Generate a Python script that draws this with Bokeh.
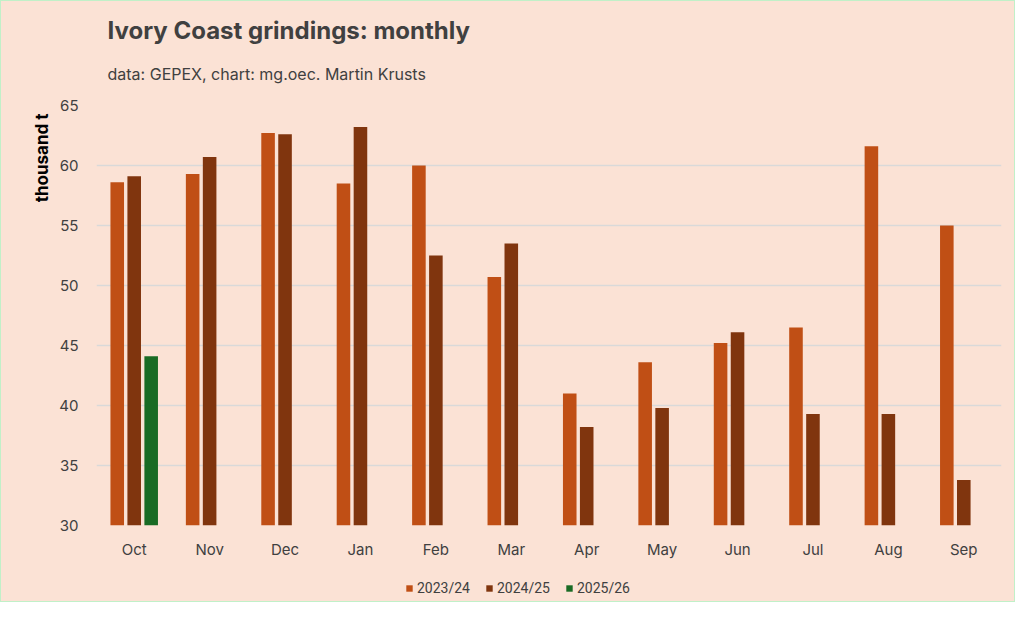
from bokeh.embed import file_html
from bokeh.layouts import column
from bokeh.models import (ColumnDataSource, FactorRange, Legend, LegendItem,
                          Range1d, SingleIntervalTicker, Title)
from bokeh.plotting import figure
from bokeh.resources import INLINE
from bokeh.transform import dodge

#-------------- data (thousand t) ----------#
months = ["Oct", "Nov", "Dec", "Jan", "Feb", "Mar", "Apr", "May", "Jun", "Jul", "Aug", "Sep"]
s2023_24 = [58.6, 59.3, 62.7, 58.5, 60.0, 50.7, 41.0, 43.6, 45.2, 46.5, 61.6, 55.0]
s2024_25 = [59.1, 60.7, 62.6, 63.2, 52.5, 53.5, 38.2, 39.8, 46.1, 39.3, 39.3, 33.8]
months_2025_26 = ["Oct"]
s2025_26 = [44.1]
seasons = ["2023/24", "2024/25", "2025/26"]
colors = ["#C04F15", "#80350E", "#196B24"]
#-------------------------------------------#

BG = "#FBE2D5"
TXT = "#404040"
FONT = "Inter"

src = ColumnDataSource(data=dict(months=months, a=s2023_24, b=s2024_25))
src_new = ColumnDataSource(data=dict(months=months_2025_26, c=s2025_26))

#------------- main chart ------------#
p = figure(x_range=FactorRange(*months, range_padding=0), y_range=Range1d(30, 65),
           title=None, width=1013, height=562, output_backend="svg", toolbar_location=None,
           min_border_left=95, min_border_right=13, min_border_top=104, min_border_bottom=38)
p.background_fill_color = None
p.border_fill_color = BG
p.outline_line_color = None

w = 0.18
p.vbar(x=dodge("months", -0.225, range=p.x_range), top="a", bottom=30, width=w,
       source=src, fill_color=colors[0], line_color=None)
p.vbar(x=dodge("months", 0.0, range=p.x_range), top="b", bottom=30, width=w,
       source=src, fill_color=colors[1], line_color=None)
p.vbar(x=dodge("months", 0.225, range=p.x_range), top="c", bottom=30, width=w,
       source=src_new, fill_color=colors[2], line_color=None)

p.xgrid.grid_line_color = None
p.ygrid.grid_line_color = "#D9D9D9"
p.ygrid.grid_line_width = 1.6
p.yaxis.ticker = SingleIntervalTicker(interval=5)
for ax in (p.xaxis, p.yaxis):
    ax.axis_line_color = None
    ax.major_tick_line_color = None
    ax.minor_tick_line_color = None
    ax.major_label_text_font = FONT
    ax.major_label_text_font_size = "15px"
    ax.major_label_text_color = TXT
p.yaxis.major_label_standoff = 12
p.xaxis.major_label_standoff = 8

p.add_layout(Title(text="data: GEPEX, chart: mg.oec. Martin Krusts", text_font=FONT,
                   text_font_size="16px", text_font_style="normal", text_color=TXT,
                   align="left", offset=11, standoff=44), "above")
p.add_layout(Title(text="Ivory Coast grindings: monthly", text_font=FONT,
                   text_font_size="24px", text_font_style="bold", text_color=TXT,
                   align="left", offset=11, standoff=-10), "above")
p.add_layout(Title(text="thousand t", text_font=FONT, text_font_size="17px",
                   text_font_style="bold", text_color="black",
                   align="right", offset=8, standoff=10), "left")

#------------- legend strip ------------#
leg = figure(x_range=Range1d(0, 1), y_range=Range1d(0, 1), width=1013, height=38,
             x_axis_location=None, y_axis_location=None, output_backend="svg",
             toolbar_location=None, min_border=0)
leg.background_fill_color = None
leg.border_fill_color = BG
leg.outline_line_color = None
leg.grid.visible = False
items = []
for name, col in zip(seasons, colors):
    # zero-width bar: draws nothing, only gives the legend its swatch
    r = leg.vbar(x=[0.5], top=[0.5], width=0, fill_color=col, line_color=None)
    items.append(LegendItem(label=name, renderers=[r]))
legend = Legend(items=items, location=(309, 5), orientation="horizontal",
                glyph_width=8, glyph_height=8, label_standoff=4, spacing=15,
                padding=0, margin=0, label_height=16,
                label_text_font="Roboto", label_text_font_size="14px",
                label_text_color=TXT, border_line_color=None, background_fill_alpha=0)
leg.add_layout(legend)

page = column(p, leg, spacing=0,
              styles={"border": "1px solid #C1F0C8", "background-color": BG})

open("out.html", "w").write(file_html(page, INLINE))
